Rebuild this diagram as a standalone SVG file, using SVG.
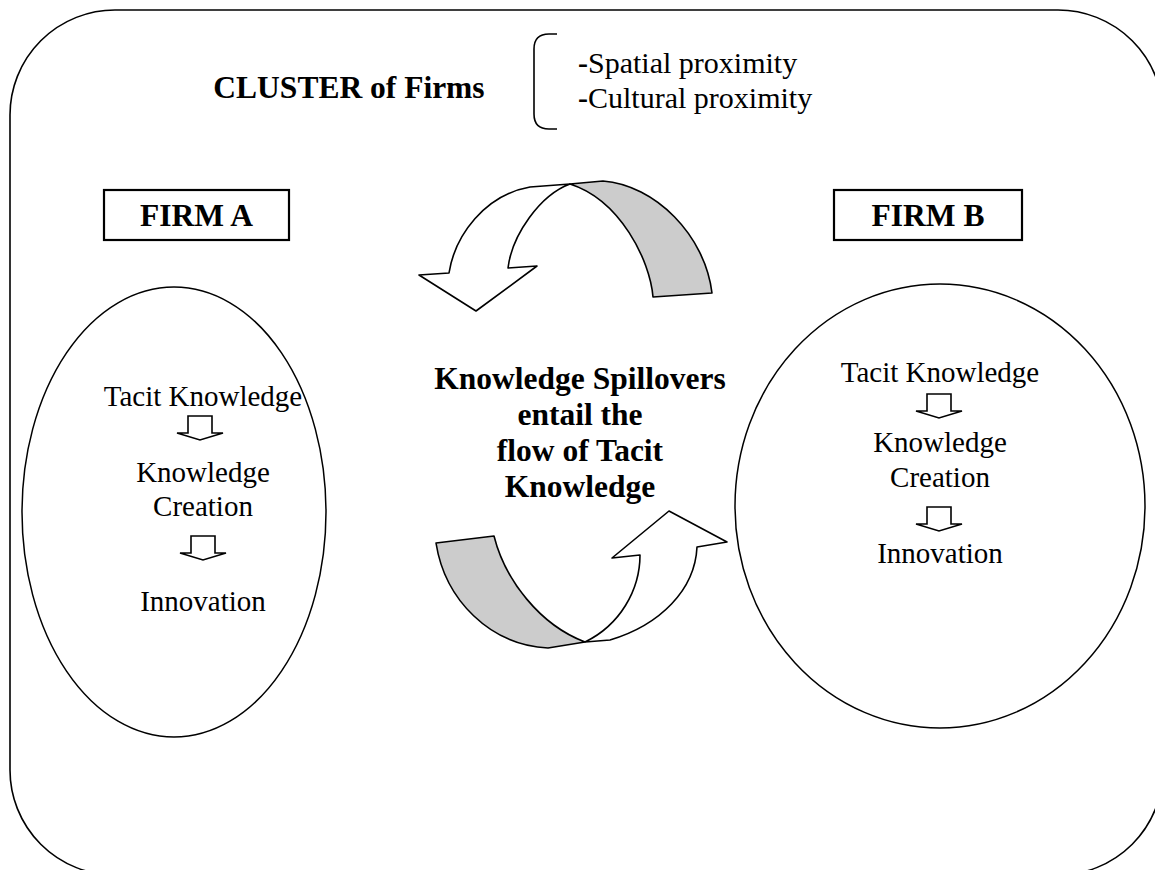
<svg xmlns="http://www.w3.org/2000/svg" width="1155" height="870" viewBox="0 0 1155 870">
  <style>
    .ln { fill: none; stroke: #000; stroke-width: 1.6; }
    .box { fill: #fff; stroke: #000; stroke-width: 2.2; }
    .oval { fill: #fff; stroke: #000; stroke-width: 1.5; }
    .blk { fill: #fff; stroke: #000; stroke-width: 1.6; stroke-linejoin: miter; }
    .band { fill: #cccccc; stroke: #000; stroke-width: 1.6; stroke-linejoin: round; }
    .rib { fill: #fff; stroke: #000; stroke-width: 1.6; stroke-linejoin: round; }
    .reg { font-family: "Liberation Serif", "Times New Roman", serif; font-size: 29px; fill: #000; text-anchor: middle; }
    .bold { font-family: "Liberation Serif", "Times New Roman", serif; font-size: 31.5px; font-weight: bold; fill: #000; text-anchor: middle; }
    .lst { font-family: "Liberation Serif", "Times New Roman", serif; font-size: 30px; fill: #000; }
  </style>
  <defs>
    <!-- small hollow down arrow, tip at (0,24) -->
    <path id="down" d="M -12,0 L 12,0 L 12,17 L 23,17 L 0,24 L -23,17 L -12,17 Z"/>
  </defs>

  <rect width="1155" height="870" fill="#fff"/>

  <!-- cluster boundary -->
  <g id="cluster">
    <rect class="ln" x="10" y="10" width="1153" height="865" rx="105" ry="105"/>
    <text class="bold" x="349" y="98">CLUSTER of Firms</text>
    <path class="ln" d="M 557,34 L 549,34 Q 534,34 534,49 L 534,114 Q 534,129 549,129 L 557,129"/>
    <text class="lst" x="578" y="73"><tspan font-weight="bold">-</tspan>Spatial proximity</text>
    <text class="lst" x="578" y="108"><tspan font-weight="bold">-</tspan>Cultural proximity</text>
  </g>

  <!-- firm A -->
  <g id="firm-a">
    <rect class="box" x="104" y="190" width="185" height="50"/>
    <text class="bold" x="196.5" y="226">FIRM A</text>
    <ellipse class="oval" cx="174" cy="512" rx="152" ry="225"/>
    <text class="reg" x="203" y="406">Tacit Knowledge</text>
    <use href="#down" class="blk" x="200" y="416"/>
    <text class="reg" x="203" y="482">Knowledge</text>
    <text class="reg" x="203" y="516">Creation</text>
    <use href="#down" class="blk" x="203" y="536"/>
    <text class="reg" x="203" y="611">Innovation</text>
  </g>

  <!-- firm B -->
  <g id="firm-b">
    <rect class="box" x="834" y="190" width="188" height="50"/>
    <text class="bold" x="928" y="226">FIRM B</text>
    <ellipse class="oval" cx="940" cy="506" rx="205" ry="222"/>
    <text class="reg" x="940" y="382">Tacit Knowledge</text>
    <use href="#down" class="blk" x="939" y="394"/>
    <text class="reg" x="940" y="452">Knowledge</text>
    <text class="reg" x="940" y="487">Creation</text>
    <use href="#down" class="blk" x="939" y="507"/>
    <text class="reg" x="940" y="563">Innovation</text>
  </g>

  <!-- spillover label -->
  <g id="spillover">
    <text class="bold" x="580" y="389">Knowledge Spillovers</text>
    <text class="bold" x="580" y="425">entail the</text>
    <text class="bold" x="580" y="461">flow of Tacit</text>
    <text class="bold" x="580" y="497">Knowledge</text>
  </g>

  <!-- twisted ribbon arrows -->
  <g id="connectors">
    <g id="flow-b-to-a">
      <path class="band" d="M 603,181 C 655,185 705,235 712,293 L 653,297 C 650,260 620,200 570,184 Z"/>
      <path class="rib" d="M 449,273 C 455,235 485,195 530,187 L 570,184 C 540,195 512,235 508,268 L 537,266 L 476,311 L 419,275 Z"/>
    </g>
    <g id="flow-a-to-b">
      <path class="band" d="M 436,543 L 494,536 C 505,580 540,625 585,642 L 548,648 C 490,645 445,600 436,543 Z"/>
      <path class="rib" d="M 585,642 L 610,640 C 660,625 695,590 697,547 L 727,542 L 669,511 L 612,558 L 640,555 C 640,590 620,625 585,642 Z"/>
    </g>
  </g>
</svg>
